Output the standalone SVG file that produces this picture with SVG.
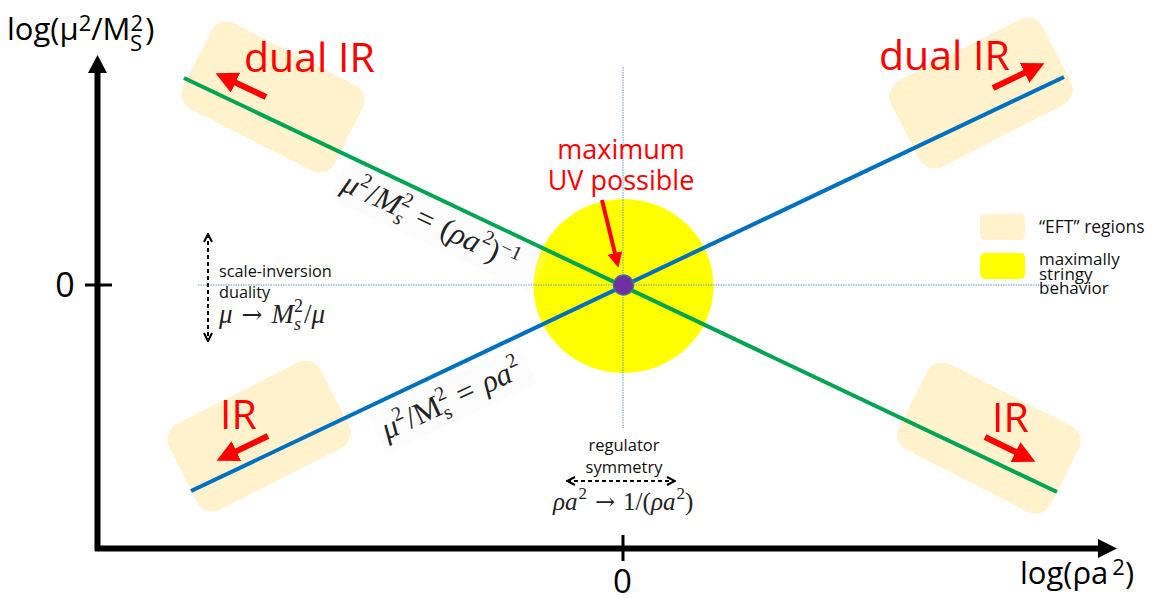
<svg xmlns="http://www.w3.org/2000/svg" width="1159" height="598" viewBox="0 0 1159 598">
<style>
.sans{font-family:"Open Sans","Noto Sans","Liberation Sans",sans-serif}
.math{font-family:"Liberation Serif","DejaVu Serif",serif;fill:#222}
.arr{font-family:"DejaVu Serif","Liberation Serif",serif}
.it{font-style:italic}
.eft{fill:#FFF2CC}
.red{fill:#FF0000}
.redline{stroke:#FF0000;fill:none}
.dot{stroke:#5B9BD5;stroke-width:1;stroke-dasharray:1.5 1;fill:none}
.dash{stroke:#000;stroke-width:2;stroke-dasharray:4 3;fill:none}
</style>
<defs>
<marker id="rh" viewBox="0 0 10 10" refX="2" refY="5" markerWidth="22" markerHeight="22" markerUnits="userSpaceOnUse" orient="auto"><path d="M0,0 L10,5 L0,10z" fill="#FF0000"/></marker>
<marker id="rhs" viewBox="0 0 10 10" refX="2" refY="5" markerWidth="15" markerHeight="15" markerUnits="userSpaceOnUse" orient="auto"><path d="M0,0 L10,5 L0,10z" fill="#FF0000"/></marker>
<marker id="chev" viewBox="0 0 10 10" refX="9" refY="5" markerWidth="10" markerHeight="10" markerUnits="userSpaceOnUse" orient="auto-start-reverse"><path d="M1,1 L9,5 L1,9" stroke="#000" stroke-width="2" fill="none"/></marker>
</defs>
<rect width="1159" height="598" fill="#fff"/>

<g id="eft-top-left"><rect class="eft" x="-85" y="-48" width="170" height="96" rx="17" transform="translate(273,97) rotate(27)"/></g>
<g id="eft-top-right"><rect class="eft" x="-85" y="-48" width="170" height="96" rx="17" transform="translate(981,93) rotate(-27)"/></g>
<g id="eft-bottom-left"><rect class="eft" x="-85" y="-48" width="170" height="96" rx="17" transform="translate(259,436) rotate(-27)"/></g>
<g id="eft-bottom-right"><rect class="eft" x="-85" y="-48" width="170" height="96" rx="17" transform="translate(989,438) rotate(27)"/></g>

<g id="stringy-region"><ellipse cx="623.5" cy="286" rx="90" ry="87" fill="#FFFF00"/></g>

<g id="guides">
<line class="dot" x1="198" y1="285" x2="1055" y2="285"/>
<line class="dot" x1="623" y1="67" x2="623" y2="428"/>
</g>

<g id="math-label-green" transform="translate(340,190) rotate(25)">
<rect x="-6" y="-30" width="222" height="42" fill="#eeeeee" opacity="0.2"/>
<text class="math" font-size="31"><tspan class="it">μ</tspan><tspan font-size="20" dy="-13">2</tspan><tspan dy="13" dx="1">/</tspan><tspan class="it">M</tspan><tspan font-size="20" dy="-13">2</tspan><tspan font-size="20" class="it" dx="-10" dy="20">s</tspan><tspan dy="-7" dx="12">=</tspan><tspan dx="10">(</tspan><tspan class="it">ρa</tspan><tspan font-size="20" dy="-13" dx="1">2</tspan><tspan dy="13">)</tspan><tspan font-size="20" dy="-11">−1</tspan></text>
</g>
<g id="math-label-blue" transform="translate(387,440) rotate(-25)">
<rect x="-6" y="-30" width="166" height="42" fill="#eeeeee" opacity="0.2"/>
<text class="math" font-size="31"><tspan class="it">μ</tspan><tspan font-size="20" dy="-13">2</tspan><tspan dy="13" dx="1">/</tspan><tspan>M</tspan><tspan font-size="20" dy="-13">2</tspan><tspan font-size="20" dx="-10" dy="20">s</tspan><tspan dy="-7" dx="12">=</tspan><tspan class="it" dx="10">ρa</tspan><tspan font-size="20" dy="-13" dx="1">2</tspan></text>
</g>

<g id="connectors">
<line x1="184" y1="78" x2="1057" y2="492" stroke="#00A651" stroke-width="4"/>
<line x1="191" y1="491" x2="1064" y2="77" stroke="#0070C0" stroke-width="4"/>
<line class="redline" x1="266" y1="97" x2="231.5" y2="80.8" stroke-width="6" marker-end="url(#rh)"/>
<line class="redline" x1="993" y1="88" x2="1028.6" y2="70.9" stroke-width="6" marker-end="url(#rh)"/>
<line class="redline" x1="268" y1="436" x2="232.4" y2="453.1" stroke-width="6" marker-end="url(#rh)"/>
<line class="redline" x1="985" y1="437" x2="1019.6" y2="454" stroke-width="6" marker-end="url(#rh)"/>
<line class="redline" x1="602" y1="200" x2="615.6" y2="256" stroke-width="4" marker-end="url(#rhs)"/>
<line class="dash" x1="208" y1="234" x2="208" y2="341" marker-start="url(#chev)" marker-end="url(#chev)"/>
<line class="dash" x1="567" y1="481" x2="675" y2="481" marker-start="url(#chev)" marker-end="url(#chev)"/>
</g>

<g id="center-point"><circle cx="623.5" cy="285" r="10" fill="#7030A0" stroke="#41719C" stroke-width="1.5"/></g>

<g id="axes">
<line x1="97.5" y1="551" x2="97.5" y2="72" stroke="#000" stroke-width="6"/>
<polygon points="88,73 97.5,55 107,73" fill="#000"/>
<line x1="95" y1="548.5" x2="1100" y2="548.5" stroke="#000" stroke-width="6"/>
<polygon points="1098,539 1117,548.5 1098,558" fill="#000"/>
<line x1="85" y1="285" x2="112" y2="285" stroke="#000" stroke-width="3"/>
<line x1="623" y1="535" x2="623" y2="561" stroke="#000" stroke-width="3"/>
<text class="sans" x="65" y="297" font-size="34" text-anchor="middle">0</text>
<text class="sans" x="622.5" y="593" font-size="33" text-anchor="middle">0</text>
<text class="sans" x="7" y="40" font-size="31">log(μ<tspan font-size="22" dy="-9">2</tspan><tspan dy="9">/M</tspan><tspan font-size="22" dy="-9">2</tspan><tspan font-size="22" dx="-13" dy="20">S</tspan><tspan dy="-11" dx="3">)</tspan></text>
<text class="sans" x="1020" y="584" font-size="31">log(ρa<tspan font-size="22" dx="4" dy="-9">2</tspan><tspan dy="9">)</tspan></text>
</g>

<g id="label-dual-ir-left"><text class="sans red" x="244" y="72" font-size="41">dual IR</text></g>
<g id="label-dual-ir-right"><text class="sans red" x="879" y="70" font-size="41">dual IR</text></g>
<g id="label-ir-left"><text class="sans red" x="220" y="429" font-size="41">IR</text></g>
<g id="label-ir-right"><text class="sans red" x="992" y="432" font-size="41">IR</text></g>
<g id="label-max-uv"><text class="sans red" font-size="27" text-anchor="middle"><tspan x="621" y="159">maximum</tspan><tspan x="621" y="190">UV possible</tspan></text></g>

<g id="scale-inversion">
<text class="sans" font-size="16.3" fill="#111"><tspan x="219" y="277">scale-inversion</tspan><tspan x="219" y="298">duality</tspan></text>
<text class="math" x="219" y="323" font-size="27"><tspan class="it">μ</tspan><tspan class="arr" dx="9" font-size="25">→</tspan><tspan class="it" dx="9">M</tspan><tspan font-size="18" dy="-11">2</tspan><tspan font-size="18" class="it" dx="-9" dy="18">s</tspan><tspan dy="-7" dx="3">/</tspan><tspan class="it">μ</tspan></text>
</g>

<g id="regulator-symmetry">
<text class="sans" font-size="16.5" fill="#111" text-anchor="middle"><tspan x="624" y="451">regulator</tspan><tspan x="624" y="473">symmetry</tspan></text>
<text class="math" x="553" y="510" font-size="25"><tspan class="it">ρa</tspan><tspan font-size="17" dy="-11" dx="1">2</tspan><tspan class="arr" dy="11" dx="8" font-size="24">→</tspan><tspan dx="8">1/(</tspan><tspan class="it">ρa</tspan><tspan font-size="17" dy="-11" dx="1">2</tspan><tspan dy="11">)</tspan></text>
</g>

<g id="legend">
<rect x="980" y="214" width="45" height="26" rx="5" class="eft"/>
<text class="sans" x="1039" y="233" font-size="17.5" fill="#111">“EFT” regions</text>
<rect x="980" y="253" width="45" height="26" rx="5" fill="#FFFF00"/>
<text class="sans" font-size="17" fill="#111"><tspan x="1039" y="265">maximally</tspan><tspan x="1039" y="279.5">stringy</tspan><tspan x="1039" y="294">behavior</tspan></text>
</g>
</svg>
